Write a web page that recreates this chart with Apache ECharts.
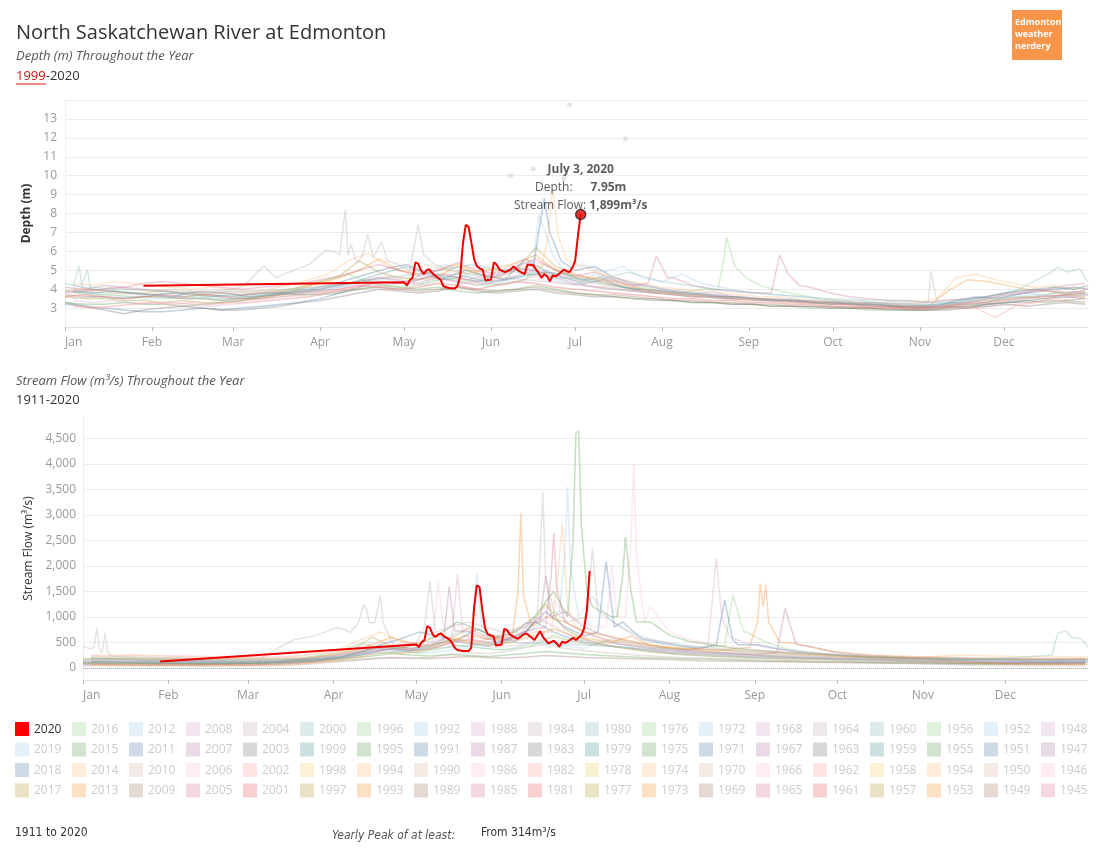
<!DOCTYPE html>
<html><head><meta charset="utf-8">
<script src="https://cdn.jsdelivr.net/npm/echarts@6/dist/echarts.min.js"></script>
<style>html,body{margin:0;padding:0;background:#fff}#c{width:1097px;height:859px}</style>
</head><body><div id="c"></div>
<script>
// ---------- categories ----------
const monthNames = ['Jan','Feb','Mar','Apr','May','Jun','Jul','Aug','Sep','Oct','Nov','Dec'];
const fullMonths = ['January','February','March','April','May','June','July','August','September','October','November','December'];
const monthLengths = [31,29,31,30,31,30,31,31,30,31,30,31];

// sample dates used by the faint background years
const gridADates = ['01-01','01-08','01-15','01-22','01-29','02-05','02-12','02-19','02-26','03-04','03-11','03-18','03-25','04-01','04-08','04-15','04-22','04-29','05-06','05-13','05-20','05-27','06-03','06-10','06-17','06-24','07-01','07-08','07-15','07-22','07-29','08-05','08-12','08-19','08-26','09-02','09-09','09-16','09-23','09-30','10-07','10-14','10-21','10-28','11-04','11-11','11-18','11-25','12-02','12-09','12-16','12-23','12-30'];
const gridBDates = ['01-04','01-11','01-18','01-25','02-01','02-08','02-15','02-22','02-29','03-07','03-14','03-21','03-28','04-04','04-11','04-18','04-25','05-02','05-09','05-16','05-23','05-30','06-06','06-13','06-20','06-27','07-04','07-11','07-18','07-25','08-01','08-08','08-15','08-22','08-29','09-05','09-12','09-19','09-26','10-03','10-10','10-17','10-24','10-31','11-07','11-14','11-21','11-28','12-05','12-12','12-19','12-26','12-31'];

// ---------- 2020 (highlighted) ----------
const depth2020Dates = ['01-29','05-01','05-02','05-03','05-04','05-05','05-06','05-07','05-08','05-09','05-10','05-11','05-13','05-14','05-15','05-17','05-19','05-20','05-21','05-22','05-23','05-24','05-25','05-26','05-27','05-28','05-29','05-30','06-01','06-02','06-03','06-04','06-06','06-08','06-09','06-11','06-13','06-14','06-16','06-18','06-19','06-20','06-21','06-22','06-23','06-24','06-25','06-27','06-28','06-29','06-30','07-01','07-02','07-03'];
const depth2020Values = [4.18,4.36,4.19,4.47,4.6,5.42,5.35,5.0,4.8,5.0,5.05,4.85,4.6,4.5,4.15,4.06,4.03,4.15,4.68,6.45,7.4,7.3,6.45,5.57,5.2,5.1,5.03,4.47,4.5,5.42,5.3,5.03,4.9,5.03,5.2,4.95,4.8,5.3,5.27,4.85,4.6,4.8,4.68,4.42,4.72,4.68,4.77,5.03,4.95,4.9,5.12,5.48,6.8,7.95];
const flow2020Dates = ['01-29','05-01','05-02','05-03','05-04','05-05','05-06','05-07','05-08','05-09','05-10','05-11','05-13','05-14','05-15','05-16','05-18','05-20','05-21','05-22','05-23','05-24','05-25','05-26','05-27','05-28','05-29','05-30','05-31','06-01','06-02','06-03','06-04','06-06','06-07','06-09','06-10','06-12','06-13','06-15','06-16','06-17','06-18','06-20','06-21','06-22','06-23','06-24','06-25','06-27','06-28','06-29','06-30','07-01','07-02','07-03'];
const flow2020Values = [124,458,405,504,543,818,785,654,602,654,674,621,556,490,392,347,327,327,392,1145,1615,1589,1145,785,654,634,621,438,445,458,765,739,654,589,569,654,674,589,543,720,608,543,477,530,477,412,510,490,510,589,543,595,641,772,1131,1899];

// isolated depth readings (dots)
const depthDotDates = ['06-08','06-16','06-27','06-29','07-19'];
const depthDotValues = [10.0,10.35,9.85,13.75,11.95];

// ---------- depth background years (m) ----------
const depth2019 = [3.9,3.8,3.7,3.6,3.5,3.5,3.6,3.5,3.4,3.5,3.6,3.7,3.8,3.9,4.1,4.3,4.6,4.4,4.2,4.5,4.8,4.4,4.3,4.6,4.9,4.5,4.2,4.8,4.3,4.0,3.9,3.8,3.7,3.9,3.6,3.5,3.4,3.5,3.3,3.3,3.2,3.3,3.2,3.1,3.1,3.0,3.2,3.3,3.6,3.8,3.7,3.9,3.8];
const depth2018 = [4.2,4.0,3.9,3.8,3.7,3.6,3.8,3.7,3.6,3.7,3.8,3.9,4.0,4.2,4.5,4.8,5.1,5.3,4.9,4.6,5.0,4.7,4.5,5.6,5.0,4.6,4.3,4.5,4.1,3.9,3.8,3.7,3.6,3.5,3.5,3.4,3.4,3.3,3.3,3.2,3.2,3.1,3.1,3.0,3.1,3.4,3.6,3.5,3.7,3.9,4.0,4.1,4.0];
const depth2017 = [3.6,3.5,3.5,3.4,3.4,3.3,3.4,3.3,3.3,3.4,3.5,3.7,4.0,4.4,4.7,5.5,4.9,4.6,4.5,4.7,5.2,4.8,4.6,5.0,6.2,5.2,4.8,4.5,4.2,4.0,3.8,3.7,3.6,3.6,3.5,3.4,3.4,3.3,3.3,3.2,3.2,3.1,3.1,3.0,3.0,3.1,3.3,3.4,3.5,3.6,3.5,3.7,3.6];
const depth2016 = [3.8,3.7,3.7,3.6,3.6,3.5,3.6,3.5,3.5,3.6,3.7,3.9,4.3,4.5,4.8,4.4,4.2,4.1,4.3,4.6,4.4,4.2,4.3,4.5,5.3,4.8,4.4,4.7,4.3,4.1,3.9,3.8,4.0,4.5,4.6,4.2,3.9,3.7,3.5,3.4,3.3,3.3,3.2,3.2,3.1,3.2,3.2,3.4,3.5,3.6,3.8,3.7,3.8];
const depth2016SpikeDates = ['08-21','08-23','08-24','08-27','08-31'];
const depth2016SpikeValues = [4.0,5.5,6.77,5.2,4.6];
const depth2015 = [3.3,3.2,3.2,3.3,3.2,3.2,3.1,3.2,3.3,3.4,3.6,3.8,3.7,3.7,3.8,4.0,4.2,4.1,4.0,4.1,3.9,3.8,3.9,4.0,4.2,4.0,3.8,3.7,3.6,3.5,3.5,3.4,3.3,3.3,3.2,3.2,3.1,3.1,3.0,3.0,3.0,2.9,2.9,2.9,2.9,3.0,3.1,3.2,3.3,3.4,3.3,3.4,3.3];
const depth2014 = [4.3,4.2,4.4,4.3,4.2,4.1,4.0,4.1,4.0,3.9,4.0,4.2,4.5,4.8,5.5,5.9,5.2,4.9,5.3,5.0,4.8,5.1,4.9,5.2,5.5,6.0,5.2,4.8,4.5,4.3,4.1,4.0,3.9,3.8,3.7,3.6,3.6,3.5,3.4,3.4,3.3,3.3,3.2,3.3,3.5,4.6,4.8,4.5,4.3,4.1,4.2,4.0,4.1];
const depth2014SpikeDates = ['06-19','06-21','06-23','06-25','06-28'];
const depth2014SpikeValues = [5.2,6.5,9.3,6.8,5.5];
const depth2013 = [3.9,4.0,3.9,3.8,3.8,3.9,3.8,3.7,3.8,3.7,3.8,3.9,4.1,4.3,4.6,5.0,5.6,5.0,4.8,5.0,5.3,4.9,5.1,5.4,5.8,5.0,4.7,4.6,4.4,4.1,3.9,3.8,3.7,3.6,3.6,3.5,3.5,3.4,3.3,3.3,3.2,3.2,3.1,3.1,3.1,3.9,4.5,4.4,4.2,4.0,3.9,3.8,3.9];
const depth2012 = [3.5,3.6,3.5,3.6,3.7,3.6,3.5,3.6,3.5,3.6,3.7,3.8,3.9,4.0,4.2,4.5,4.3,4.4,4.9,5.3,4.8,4.6,5.0,5.4,6.0,5.0,5.3,4.9,5.2,4.6,4.4,4.8,4.3,4.1,3.9,3.8,3.7,3.6,3.5,3.4,3.4,3.3,3.3,3.2,3.2,3.3,3.4,3.5,3.6,3.7,3.6,3.8,3.7];
const depth2012SpikeDates = ['06-16','06-18','06-20','06-23','06-27'];
const depth2012SpikeValues = [5.3,7.9,7.2,5.8,5.0];
const depth2011 = [3.2,3.1,3.0,2.9,2.8,2.8,2.9,3.0,2.9,3.0,3.1,3.2,3.3,3.5,3.8,4.1,4.4,4.3,4.5,4.8,4.6,4.4,4.7,5.1,5.8,5.8,5.0,5.2,4.6,4.3,4.1,3.9,3.8,3.7,3.6,3.5,3.4,3.4,3.3,3.2,3.2,3.1,3.1,3.0,3.0,3.1,3.0,3.2,3.3,3.4,3.5,3.6,3.5];
const depth2011SpikeDates = ['06-16','06-18','06-20','06-22','06-26'];
const depth2011SpikeValues = [5.0,7.0,8.8,7.0,5.5];
const depth2010 = [4.0,3.9,4.1,4.0,3.9,4.0,3.9,3.8,3.9,3.8,3.9,4.0,4.1,4.2,4.3,4.5,4.7,4.6,4.5,4.8,4.5,4.3,4.2,4.5,4.9,4.6,4.4,4.2,4.0,3.9,3.8,3.7,3.7,3.6,3.5,3.5,3.4,3.4,3.3,3.3,3.2,3.2,3.1,3.1,3.1,3.2,3.4,3.6,3.8,4.0,3.9,4.1,4.0];
const depth2009 = [3.7,3.6,3.6,3.5,3.6,3.6,3.5,3.5,3.4,3.5,3.5,3.6,3.7,3.8,3.9,4.0,4.1,4.0,3.9,4.0,4.1,4.0,3.9,4.0,4.1,3.9,3.8,3.7,3.7,3.6,3.5,3.4,3.4,3.3,3.3,3.2,3.2,3.1,3.1,3.1,3.0,3.0,3.0,2.9,2.9,3.0,3.1,3.2,3.3,3.3,3.4,3.4,3.5];
const depth2008 = [3.4,3.3,3.4,3.3,3.2,3.3,3.2,3.1,3.2,3.3,3.4,3.5,3.6,3.8,4.0,4.3,4.2,4.4,4.7,4.5,4.3,4.6,4.8,5.1,4.9,4.7,4.5,4.6,4.3,4.2,4.0,3.9,3.8,3.7,3.6,3.5,3.5,3.4,3.4,3.3,3.3,3.2,3.2,3.1,3.1,3.2,3.3,3.4,3.5,3.6,3.7,3.6,3.7];
const depth2007 = [4.1,4.0,4.2,4.1,4.0,3.9,3.8,3.9,3.8,3.7,3.8,3.8,3.9,4.0,4.2,4.4,4.6,4.5,4.3,4.6,4.4,4.2,4.4,4.7,5.0,4.6,4.3,4.1,4.0,3.9,3.8,3.7,3.6,3.6,3.5,3.5,3.4,3.4,3.3,3.3,3.2,3.2,3.1,3.1,3.1,3.2,3.3,3.5,3.7,3.8,3.9,3.8,3.9];
const depth2006 = [3.1,3.0,3.1,3.2,3.3,3.2,3.1,3.2,3.3,3.4,3.5,3.6,3.7,3.9,4.1,4.3,4.6,4.4,4.2,4.5,4.3,4.4,4.6,4.8,4.5,4.3,4.2,4.1,4.4,4.0,3.8,3.7,3.6,3.6,3.5,3.4,3.4,3.3,3.3,3.2,3.2,3.1,3.0,3.0,2.9,3.0,3.0,3.1,3.2,3.3,3.4,3.3,3.4];
const depth2005 = [3.8,3.9,4.0,4.1,4.3,4.4,4.3,4.2,4.1,4.0,4.1,4.2,4.3,4.5,4.7,5.0,5.3,5.0,4.7,5.0,5.4,5.0,4.8,5.2,5.6,5.0,4.7,4.9,4.5,4.2,4.4,4.6,4.2,4.0,3.9,3.8,4.2,4.6,4.1,3.8,3.6,3.5,3.4,3.4,3.3,3.4,3.5,3.6,3.8,3.9,4.0,4.2,4.3];
const depth2005SpikeDatesA = ['07-27','07-30','08-03'];
const depth2005SpikeValuesA = [4.3,5.75,4.6];
const depth2005SpikeDatesB = ['09-09','09-12','09-15','09-19'];
const depth2005SpikeValuesB = [3.8,5.8,4.8,4.2];
const depth2003 = [3.3,3.1,2.9,2.7,2.9,3.0,3.1,3.0,2.9,2.9,3.0,3.1,3.3,3.4,3.6,3.8,4.0,3.9,3.8,3.9,4.1,3.9,3.8,3.9,4.0,3.8,3.7,3.6,3.6,3.5,3.4,3.4,3.3,3.3,3.2,3.2,3.1,3.1,3.1,3.0,3.0,3.0,2.9,2.9,2.9,2.9,3.0,3.1,3.2,3.1,3.2,3.3,3.2];
const depth2002 = [3.1,3.0,3.1,3.2,3.3,3.2,3.3,3.2,3.3,3.3,3.4,3.5,3.6,3.8,4.0,4.2,4.4,4.3,4.6,4.8,4.5,4.7,5.1,5.6,5.3,4.9,4.6,4.4,4.2,4.0,3.9,3.8,3.7,3.6,3.5,3.5,3.4,3.3,3.3,3.2,3.1,3.1,3.0,3.0,3.0,3.1,3.0,2.5,3.1,3.3,3.5,3.6,3.5];
const depth2001 = [3.6,3.7,3.6,3.5,3.6,3.7,3.6,3.7,3.6,3.5,3.6,3.7,3.8,3.9,4.0,4.2,4.1,4.0,4.1,4.3,4.2,4.0,4.2,4.4,4.3,4.1,4.0,3.9,3.8,3.7,3.6,3.5,3.5,3.4,3.4,3.3,3.3,3.2,3.2,3.1,3.1,3.0,3.0,3.0,3.0,3.1,3.2,3.3,3.4,3.5,3.6,3.7,3.8];
const depth1999 = [3.9,3.8,3.9,3.8,3.7,3.8,3.7,3.6,3.7,3.6,3.7,3.8,3.9,4.1,4.3,4.6,4.9,5.2,4.8,4.5,4.7,4.4,4.5,4.7,4.9,4.8,4.5,4.3,4.1,4.0,3.9,3.8,3.7,3.6,3.6,3.5,3.4,3.4,3.3,3.3,3.2,3.2,3.1,3.1,3.2,3.3,3.5,3.7,3.9,4.0,4.1,4.0,4.2];
const depth2004Dates = ['01-01','01-15','02-01','02-15','03-01','03-05','03-12','03-16','03-21','03-28','04-01','04-03','04-06','04-08','04-09','04-10','04-11','04-12','04-14','04-16','04-18','04-20','04-23','04-25','04-29','05-03','05-05','05-06','05-08','05-12','05-18','05-25','06-05','06-20','07-05','07-20','08-10','09-01','09-20','10-10','10-31','11-04','11-05','11-07','11-20','12-10','12-31'];
const depth2004Values = [3.9,3.8,3.7,3.8,4.0,4.2,5.25,4.6,4.9,5.3,5.8,6.05,6.0,5.8,7.0,8.2,5.8,6.4,5.4,5.7,6.9,5.7,6.5,5.5,5.3,5.0,6.6,7.4,5.8,5.3,5.0,4.8,4.6,4.4,4.2,3.9,3.7,3.5,3.4,3.3,3.2,3.3,4.95,3.4,3.5,3.6,3.7];
const depth2000Dates = ['01-01','01-04','01-06','01-07','01-09','01-10','01-20','02-05','02-20','03-10','04-01','04-20','05-10','05-25','06-10','06-25','07-10','07-20','08-01','08-20','09-10','10-01','10-20','11-10','11-25','12-05','12-18','12-20','12-24','12-28','12-30','12-31'];
const depth2000Values = [4.3,4.2,5.25,4.2,5.05,4.1,4.0,3.9,3.8,3.9,4.1,4.5,4.9,5.3,4.9,4.6,4.5,4.9,4.4,4.0,3.7,3.5,3.4,3.3,3.6,3.9,4.9,5.15,4.9,5.1,4.6,4.4];

// ---------- stream flow background years (m³/s) ----------
const flow2019 = [150,140,130,130,120,120,115,110,115,120,130,150,180,220,260,330,380,300,280,350,420,380,350,460,520,430,380,520,440,350,300,260,240,220,200,190,180,170,160,150,140,130,125,120,110,100,90,95,100,105,110,100,105];
const flow2018 = [180,170,160,150,150,140,140,135,130,135,140,150,170,210,320,450,560,700,620,540,760,600,520,900,700,560,480,420,380,340,300,280,260,240,220,210,200,190,180,170,160,150,140,135,130,120,110,100,100,110,120,115,110];
const flow2017 = [100,95,90,90,85,85,80,80,85,90,100,130,200,280,350,600,420,380,420,560,780,600,520,680,1250,760,560,460,390,330,290,260,240,220,210,190,180,170,160,150,140,135,130,120,110,100,90,85,80,80,85,80,85];
const flow2016 = [200,190,185,180,175,170,170,165,160,165,170,190,260,350,480,380,320,300,360,440,400,350,380,450,640,520,440,560,460,400,380,360,420,500,700,500,380,320,280,250,230,210,200,190,180,170,160,160,165,170,175,170,175];
const flow2016SpikeDates = ['08-21','08-24','08-28'];
const flow2016SpikeValues = [420,1426,700];
const flow2015 = [90,85,80,80,75,75,70,75,80,90,110,150,140,160,190,230,280,250,230,260,240,220,250,280,320,290,260,240,220,200,190,180,170,160,150,140,135,130,120,115,110,105,100,95,90,85,80,80,80,85,85,90,90];
const flow2014 = [240,230,250,240,230,220,210,220,210,200,210,240,300,380,560,700,520,480,640,560,500,620,580,700,900,800,640,540,480,420,380,350,320,300,280,260,250,240,230,220,210,200,190,200,230,250,240,230,220,210,220,210,215];
const flow2014SpikeDates = ['06-19','06-21','06-23','06-25','06-28'];
const flow2014SpikeValues = [700,1500,2832,1200,800];
const flow2013 = [170,175,170,165,165,170,165,160,165,160,165,175,200,250,320,450,600,480,440,520,640,560,600,760,1000,900,700,650,560,480,420,380,360,340,380,700,600,480,380,320,280,250,230,220,210,200,190,185,180,175,170,175,180];
const flow2013SpikeDatesA = ['06-05','06-07','06-08','06-09','06-12'];
const flow2013SpikeValuesA = [650,1500,3030,1400,800];
const flow2013SpikeDatesB = ['08-30','09-02','09-03','09-04','09-05','09-06','09-10'];
const flow2013SpikeValuesB = [400,900,1655,1200,1622,900,500];
const flow2012 = [130,125,120,120,115,115,110,110,105,110,115,130,160,200,260,340,300,380,520,700,700,480,600,780,1100,1000,1400,900,700,560,480,420,380,340,300,280,260,240,220,200,190,180,170,160,150,140,130,125,120,115,120,125,120];
const flow2012SpikeDatesA = ['05-21','05-23','05-25'];
const flow2012SpikeValuesA = [700,1850,700];
const flow2012SpikeDatesB = ['06-22','06-24','06-25','06-26','06-29'];
const flow2012SpikeValuesB = [1100,2200,3551,2000,1000];
const flow2011 = [110,105,100,95,90,90,85,85,90,95,100,110,130,170,220,300,380,340,400,540,480,420,560,720,1100,800,620,900,900,560,480,420,380,500,450,450,380,320,280,250,220,200,180,170,160,150,140,130,125,120,115,120,125];
const flow2011SpikeDatesA = ['07-06','07-09','07-12'];
const flow2011SpikeValuesA = [700,2080,800];
const flow2011SpikeDatesB = ['08-18','08-21','08-24'];
const flow2011SpikeValuesB = [450,1328,550];
const flow2010 = [220,210,215,205,200,195,190,195,190,185,190,200,230,280,350,420,380,340,420,520,460,400,440,520,600,520,460,420,380,350,320,300,280,260,250,240,230,220,210,200,190,185,180,175,170,165,160,155,160,165,170,165,170];
const flow2009 = [60,58,55,55,52,50,50,52,55,60,70,90,110,130,150,180,200,190,180,200,220,200,190,210,240,220,200,190,180,170,160,150,140,135,130,125,120,115,110,105,100,95,90,88,85,80,75,70,68,66,65,64,62];
const flow2008 = [160,150,155,145,140,135,130,135,130,130,140,160,190,240,300,380,340,400,560,700,520,460,560,1000,820,600,520,480,440,400,360,340,500,700,480,400,340,300,270,240,220,200,190,180,170,160,150,145,140,135,140,145,140];
const flow2008SpikeDatesA = ['05-14','05-16','05-18'];
const flow2008SpikeValuesA = [600,1850,650];
const flow2008SpikeDatesB = ['08-15','08-18','08-20','08-23'];
const flow2008SpikeValuesB = [420,2145,1000,600];
const flow2007 = [140,135,130,125,130,125,120,120,115,120,130,150,180,230,300,360,420,380,440,600,720,560,640,880,1000,1100,800,640,540,460,400,360,330,300,280,260,240,400,400,300,260,230,210,195,180,170,165,160,150,145,150,155,150];
const flow2007SpikeDatesA = ['05-11','05-13','05-15'];
const flow2007SpikeValuesA = [560,1600,720];
const flow2007SpikeDatesB = ['06-15','06-17','06-19'];
const flow2007SpikeValuesB = [900,1800,1000];
const flow2007SpikeDatesC = ['09-09','09-12','09-16'];
const flow2007SpikeValuesC = [300,1164,450];
const flow2006 = [250,240,245,235,230,235,225,220,215,210,220,240,280,340,420,520,460,500,700,860,640,560,700,900,1300,1000,800,900,1500,1200,700,560,480,420,380,340,310,290,270,250,240,230,220,210,200,195,190,185,180,175,180,185,180];
const flow2006SpikeDatesA = ['05-07','05-09','05-11'];
const flow2006SpikeValuesA = [520,1680,800];
const flow2006SpikeDatesB = ['07-09','07-11','07-13'];
const flow2006SpikeValuesB = [800,2000,1000];
const flow2006SpikeDatesC = ['07-16','07-18','07-19','07-20','07-23'];
const flow2006SpikeValuesC = [1000,2500,4009,2200,900];
const flow2005 = [80,78,75,72,70,70,68,66,68,70,80,100,140,180,240,320,380,340,360,480,560,500,560,720,900,1000,700,560,460,400,350,320,300,280,260,240,220,200,190,180,170,160,150,140,130,120,110,105,100,98,95,96,95];
const flow2005SpikeDates = ['06-17','06-19','06-20','06-21','06-24'];
const flow2005SpikeValues = [800,1800,2636,1600,900];
const flow1995 = [120,115,110,110,105,100,100,100,95,100,110,130,170,220,300,420,380,460,640,900,760,620,700,1000,1500,1800,1200,1000,1200,900,640,520,460,400,360,330,300,280,260,240,220,210,200,190,180,175,170,165,160,155,150,155,160];
const flow1995SpikeDatesA = ['06-25','06-27','06-28','06-29','06-30','07-02'];
const flow1995SpikeValuesA = [1000,2500,4600,4650,2800,1500];
const flow1995SpikeDatesB = ['07-13','07-15','07-16','07-18','07-20'];
const flow1995SpikeValuesB = [1000,1800,2570,1500,900];
const flow1944 = [40,38,35,35,34,33,32,32,33,35,40,55,80,110,140,170,190,180,200,260,300,280,320,400,460,380,340,300,270,240,220,200,190,180,170,160,150,140,130,120,110,100,90,80,70,60,50,45,42,40,38,38,36];
const flow1933 = [60,60,58,56,55,54,54,53,52,55,60,80,120,160,220,300,280,320,420,560,480,440,520,640,760,620,560,500,620,440,400,380,360,340,320,300,280,260,240,220,200,190,180,170,150,130,110,90,80,75,70,70,68];
const flow1964Dates = ['01-01','01-03','01-05','01-06','01-07','01-08','01-09','01-10','01-12','01-20','02-10','03-01','03-05','03-12','03-18','03-25','04-02','04-05','04-07','04-10','04-12','04-13','04-14','04-16','04-18','04-19','04-23','05-01','05-04','05-06','05-08','05-20','06-01','06-10','06-14','06-16','06-17','06-20','06-25','07-02','07-04','07-06','07-20','08-05','08-25','09-15','10-10','11-01','11-20','12-10','12-31'];
const flow1964Values = [420,380,390,773,380,300,690,300,220,200,180,170,163,392,556,621,785,752,687,883,1243,1145,883,883,1419,883,425,500,800,1700,700,900,700,800,1000,3450,1800,1100,900,1000,2341,1100,600,450,350,280,230,200,180,170,160];
const flow1980Dates = ['01-01','02-01','03-01','04-01','05-01','06-01','07-01','08-01','09-01','10-01','11-01','11-20','12-05','12-18','12-20','12-23','12-25','12-28','12-30','12-31'];
const flow1980Values = [180,150,140,200,350,500,450,350,250,180,150,160,200,250,680,720,600,580,480,400];

// legend years (columns of four, newest first)
const legendFirstYear = 2020;
const legendLastYear = 1945;

// ---------- styling helpers ----------
const palette20 = ['#499894','#86bcb6','#e15759','#ff9d9a','#79706e','#bab0ac','#d37295','#fabfd2','#b07aa1','#d4a6c8','#9d7660','#d7b5a6','#4e79a7','#a0cbe8','#f28e2b','#ffbe7d','#59a14f','#8cd17d','#b6992d','#f1ce63'];
const colorOverrides = {2018:'#4e79a7', 2019:'#a0cbe8'};
function yearColor(y){ return colorOverrides[y] || palette20[(((y-1999)%20)+20)%20]; }
function fade(hex,a){ const n=parseInt(hex.slice(1),16); return 'rgba('+(n>>16)+','+((n>>8)&255)+','+(n&255)+','+a+')'; }
const RED = '#ee0000';
const FONT = '"Open Sans", sans-serif';

const pad = n => (n<10?'0':'')+n;
const categories = [];
monthLengths.forEach((len,m)=>{ for(let d=1; d<=len; d++) categories.push(pad(m+1)+'-'+pad(d)); });
const catIndex = {}; categories.forEach((c,i)=>{ catIndex[c]=i; });
const pairs = (dates, vals) => dates.map((d,i)=>[d, vals[i]]);
// base readings, with short runs of closer readings replacing the base ones in their span
function merged(dates, vals, runs){
  let pts = pairs(dates, vals);
  (runs||[]).forEach(([rd, rv])=>{
    const a = catIndex[rd[0]], b = catIndex[rd[rd.length-1]];
    pts = pts.filter(p => catIndex[p[0]] < a || catIndex[p[0]] > b);
    rd.forEach((d,i)=>pts.push([d, rv[i]]));
  });
  pts.sort((p,q)=>catIndex[p[0]]-catIndex[q[0]]);
  return pts;
}

const depthBackground = [
  [2019, merged(gridADates, depth2019)],[2018, merged(gridBDates, depth2018)],[2017, merged(gridADates, depth2017)],
  [2016, merged(gridBDates, depth2016, [[depth2016SpikeDates, depth2016SpikeValues]])],
  [2015, merged(gridADates, depth2015)],
  [2014, merged(gridBDates, depth2014, [[depth2014SpikeDates, depth2014SpikeValues]])],
  [2013, merged(gridADates, depth2013)],
  [2012, merged(gridBDates, depth2012, [[depth2012SpikeDates, depth2012SpikeValues]])],
  [2011, merged(gridADates, depth2011, [[depth2011SpikeDates, depth2011SpikeValues]])],
  [2010, merged(gridBDates, depth2010)],[2009, merged(gridADates, depth2009)],[2008, merged(gridBDates, depth2008)],
  [2007, merged(gridADates, depth2007)],[2006, merged(gridBDates, depth2006)],
  [2005, merged(gridADates, depth2005, [[depth2005SpikeDatesA, depth2005SpikeValuesA],[depth2005SpikeDatesB, depth2005SpikeValuesB]])],
  [2004, merged(depth2004Dates, depth2004Values)],[2003, merged(gridADates, depth2003)],[2002, merged(gridBDates, depth2002)],
  [2001, merged(gridADates, depth2001)],[2000, merged(depth2000Dates, depth2000Values)],[1999, merged(gridBDates, depth1999)]
];
const flowBackground = [
  [2019, merged(gridADates, flow2019)],[2018, merged(gridBDates, flow2018)],[2017, merged(gridADates, flow2017)],
  [2016, merged(gridBDates, flow2016, [[flow2016SpikeDates, flow2016SpikeValues]])],
  [2015, merged(gridADates, flow2015)],
  [2014, merged(gridBDates, flow2014, [[flow2014SpikeDates, flow2014SpikeValues]])],
  [2013, merged(gridADates, flow2013, [[flow2013SpikeDatesA, flow2013SpikeValuesA],[flow2013SpikeDatesB, flow2013SpikeValuesB]])],
  [2012, merged(gridBDates, flow2012, [[flow2012SpikeDatesA, flow2012SpikeValuesA],[flow2012SpikeDatesB, flow2012SpikeValuesB]])],
  [2011, merged(gridADates, flow2011, [[flow2011SpikeDatesA, flow2011SpikeValuesA],[flow2011SpikeDatesB, flow2011SpikeValuesB]])],
  [2010, merged(gridBDates, flow2010)],[2009, merged(gridADates, flow2009)],
  [2008, merged(gridBDates, flow2008, [[flow2008SpikeDatesA, flow2008SpikeValuesA],[flow2008SpikeDatesB, flow2008SpikeValuesB]])],
  [2007, merged(gridADates, flow2007, [[flow2007SpikeDatesA, flow2007SpikeValuesA],[flow2007SpikeDatesB, flow2007SpikeValuesB],[flow2007SpikeDatesC, flow2007SpikeValuesC]])],
  [2006, merged(gridBDates, flow2006, [[flow2006SpikeDatesA, flow2006SpikeValuesA],[flow2006SpikeDatesB, flow2006SpikeValuesB],[flow2006SpikeDatesC, flow2006SpikeValuesC]])],
  [2005, merged(gridADates, flow2005, [[flow2005SpikeDates, flow2005SpikeValues]])],
  [1995, merged(gridBDates, flow1995, [[flow1995SpikeDatesA, flow1995SpikeValuesA],[flow1995SpikeDatesB, flow1995SpikeValuesB]])],
  [1944, merged(gridADates, flow1944)],[1933, merged(gridBDates, flow1933)],
  [1964, merged(flow1964Dates, flow1964Values)],[1980, merged(flow1980Dates, flow1980Values)]
];

function bgSeries(gi, entry, alpha){
  const [year, data] = entry;
  return {type:'line', name:String(year), xAxisIndex:gi, yAxisIndex:gi, data:data,
    symbol:'none', showSymbol:false, silent:true, animation:false, z:2,
    lineStyle:{width:1.5, color:fade(yearColor(year), alpha)}};
}

const series = [];
series.push({type:'scatter', xAxisIndex:0, yAxisIndex:0, data:pairs(depthDotDates, depthDotValues),
  symbolSize:5, silent:true, animation:false, itemStyle:{color:'rgba(170,190,170,0.45)'}, z:2});
depthBackground.forEach(e => series.push(bgSeries(0, e, 0.35)));
flowBackground.forEach(e => series.push(bgSeries(1, e, 0.35)));
series[series.length-1].markLine = {silent:true, symbol:'none', animation:false, label:{show:false},
  lineStyle:{type:'dotted', color:'#aaaaaa', width:1}, data:[{yAxis:0}]};

series.push({type:'line', name:'2020', xAxisIndex:0, yAxisIndex:0, data:pairs(depth2020Dates, depth2020Values),
  symbol:'none', animation:false, z:5, lineStyle:{width:2, color:RED}});
series.push({type:'line', name:'2020 flow', xAxisIndex:1, yAxisIndex:1, data:pairs(flow2020Dates, flow2020Values),
  symbol:'none', animation:false, z:5, lineStyle:{width:2, color:RED}});

const lastIdx = depth2020Dates.length-1;
const lastFlow = flow2020Values[flow2020Values.length-1];
const [lm, ld] = depth2020Dates[lastIdx].split('-').map(Number);
series.push({type:'scatter', xAxisIndex:0, yAxisIndex:0, animation:false, z:6,
  data:[[depth2020Dates[lastIdx], depth2020Values[lastIdx]]],
  symbolSize:10, itemStyle:{color:RED, borderColor:'#222', borderWidth:1.5},
  label:{show:true, position:'top', distance:3, offset:[0,9], align:'center',
    formatter: () => '{t|'+fullMonths[lm-1]+' '+ld+', 2020}\n{l|Depth:}{s| }{v|'+depth2020Values[lastIdx].toFixed(2)+'m}\n{l|Stream Flow: }{v|'+lastFlow.toLocaleString('en-US')+'m³/s}',
    rich:{
      t:{fontFamily:FONT, fontSize:12, fontWeight:'bold', color:'#333', lineHeight:18},
      l:{fontFamily:FONT, fontSize:12, color:'#333', lineHeight:18},
      s:{fontFamily:FONT, fontSize:12, lineHeight:18, width:18},
      v:{fontFamily:FONT, fontSize:12, fontWeight:'bold', color:'#333', lineHeight:18}
    }}});

function xAxisFor(gi){
  return {gridIndex:gi, type:'category', data:categories, boundaryGap:false,
    axisLine:{show:true, onZero:false, lineStyle:{color:'#e4e4e4'}},
    axisTick:{show:true, length:4, interval:(i,v)=>v.endsWith('-01'), lineStyle:{color:'#bbbbbb'}},
    axisLabel:{interval:(i,v)=>v.endsWith('-01'), formatter:v=>monthNames[Number(v.slice(0,2))-1],
      color:'#999', fontSize:12, fontFamily:FONT, margin:10, alignMinLabel:'left'},
    splitLine:{show:false}};
}

const graphic = [];
graphic.push({type:'text', x:16, y:33, style:{text:'North Saskatchewan River at Edmonton', font:'20px '+FONT, fill:'#333', verticalAlign:'middle'}});
graphic.push({type:'text', x:16, y:56, style:{text:'Depth (m) Throughout the Year', font:'italic 13px '+FONT, fill:'#555', verticalAlign:'middle'}});
const mc = document.createElement('canvas').getContext('2d');
mc.font = '13px "Open Sans"';
const w1999 = mc.measureText('1999').width;
graphic.push({type:'text', x:16, y:76, style:{text:'1999', font:'13px '+FONT, fill:'#dd1111', verticalAlign:'middle'}});
graphic.push({type:'text', x:16+w1999, y:76, style:{text:'-2020', font:'13px '+FONT, fill:'#333', verticalAlign:'middle'}});
graphic.push({type:'line', shape:{x1:16, y1:84, x2:16+w1999, y2:84}, style:{stroke:'#dd1111', lineWidth:1}});
graphic.push({type:'text', x:16, y:381, style:{text:'Stream Flow (m³/s) Throughout the Year', font:'italic 13px '+FONT, fill:'#555', verticalAlign:'middle'}});
graphic.push({type:'text', x:16, y:400, style:{text:'1911-2020', font:'13px '+FONT, fill:'#333', verticalAlign:'middle'}});
graphic.push({type:'rect', shape:{x:1012, y:10, width:50, height:50}, style:{fill:'#f7964a'}});
['Edmonton','weather','nerdery'].forEach((t,i)=>graphic.push({type:'text', x:1015, y:22+12*i,
  style:{text:t, font:'bold 9px '+FONT, fill:'#fff', verticalAlign:'middle'}}));
for (let y = legendFirstYear, i = 0; y >= legendLastYear; y--, i++) {
  const col = Math.floor(i/4), row = i%4;
  const hl = (y === 2020);
  graphic.push({type:'rect', shape:{x:15+57*col, y:722+20.5*row, width:14, height:14},
    style:{fill: hl ? '#ff0000' : fade(yearColor(y), 0.28)}});
  graphic.push({type:'text', x:34+57*col, y:729.5+20.5*row,
    style:{text:String(y), font:'12px '+FONT, fill: hl ? '#333' : '#cccccc', verticalAlign:'middle'}});
}
const NARROW = '"Liberation Sans Narrow", "DejaVu Sans Condensed", sans-serif';
graphic.push({type:'text', x:15, y:833, style:{text:'1911 to 2020', font:'12px '+NARROW, fill:'#333', verticalAlign:'middle'}});
graphic.push({type:'text', x:332, y:836, style:{text:'Yearly Peak of at least:', font:'italic 12px '+NARROW, fill:'#555', verticalAlign:'middle'}});
graphic.push({type:'text', x:481, y:833, style:{text:'From 314m³/s', font:'12px '+NARROW, fill:'#333', verticalAlign:'middle'}});

const option = {
  backgroundColor:'#fff',
  animation:false,
  textStyle:{fontFamily:FONT},
  grid:[
    {left:65, right:9, top:100, height:227, containLabel:false},
    {left:83, right:9, top:417, height:263, containLabel:false}
  ],
  xAxis:[xAxisFor(0), xAxisFor(1)],
  yAxis:[
    {gridIndex:0, type:'value', min:2, max:14, interval:1,
      axisLine:{show:true, lineStyle:{color:'#eeeeee'}}, axisTick:{show:false},
      axisLabel:{color:'#999', fontSize:12, fontFamily:FONT, margin:8, formatter:v=>(v<=2||v>=14)?'':String(v)},
      splitLine:{lineStyle:{color:'#ececec'}},
      name:'Depth (m)', nameLocation:'middle', nameGap:28, nameTextStyle:{fontWeight:'bold', color:'#333', fontSize:12, fontFamily:FONT}},
    {gridIndex:1, type:'value', min:-240, max:4920, splitNumber:10,
      axisLine:{show:true, lineStyle:{color:'#eeeeee'}}, axisTick:{show:false},
      axisLabel:{color:'#999', fontSize:12, fontFamily:FONT, margin:7, formatter:v=>(v%500===0)?v.toLocaleString('en-US'):''},
      splitLine:{showMinLine:false, showMaxLine:false, lineStyle:{color:'#ececec'}},
      name:'Stream Flow (m³/s)', nameLocation:'middle', nameGap:46, nameTextStyle:{color:'#333', fontSize:12, fontFamily:FONT}}
  ],
  series: series,
  graphic: graphic
};
const chart = echarts.init(document.getElementById('c'));
chart.setOption(option);
</script></body></html>
